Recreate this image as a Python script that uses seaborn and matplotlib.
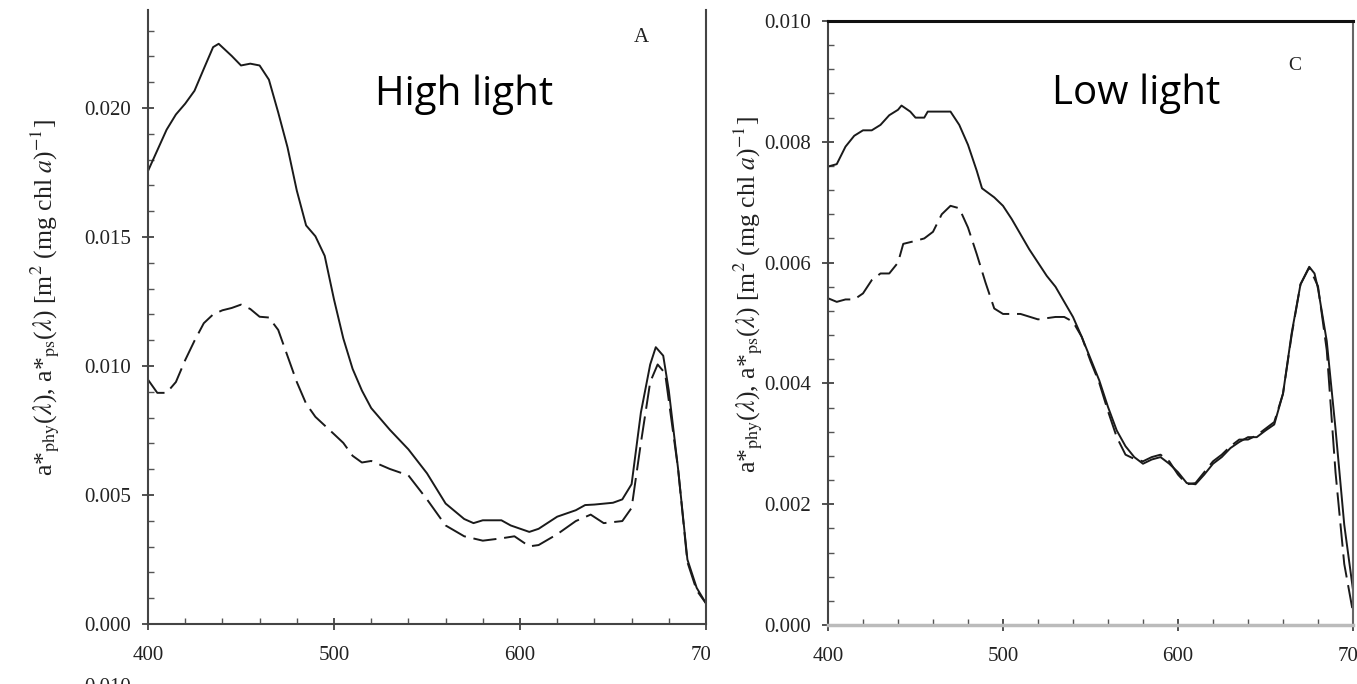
import numpy as np
import pandas as pd
import matplotlib
matplotlib.use("Agg")
import matplotlib.pyplot as plt
import seaborn as sns
from matplotlib.ticker import MultipleLocator, FormatStrFormatter
from matplotlib.transforms import Bbox

# ---------------- data ----------------
# Panel A (High light)
hl_phy_wl = [400, 410, 415, 420, 425, 430, 435, 438, 445, 450, 455, 460, 465, 470, 475,
             480, 485, 490, 495, 500, 505, 510, 515, 520, 530, 540, 550, 560, 570, 575,
             580, 590, 595, 605, 610, 620, 630, 635, 640, 650, 655, 660, 665, 670, 673,
             677, 680, 685, 690, 695, 700]
hl_phy = [0.01756, 0.01916, 0.01975, 0.02017, 0.02067, 0.02152, 0.02236, 0.02249, 0.02202,
          0.02165, 0.02172, 0.02165, 0.02110, 0.01983, 0.01848, 0.01680, 0.01545, 0.01503,
          0.01427, 0.01258, 0.01107, 0.00989, 0.00905, 0.00837, 0.00753, 0.00677, 0.00584,
          0.00467, 0.00407, 0.00391, 0.00402, 0.00402, 0.00382, 0.00357, 0.00369, 0.00416,
          0.00441, 0.00461, 0.00463, 0.00470, 0.00483, 0.00542, 0.00820, 0.01006, 0.01073,
          0.01040, 0.00905, 0.00601, 0.00250, 0.00140, 0.00080]

hl_ps_wl = [400, 405, 410, 415, 420, 425, 430, 435, 440, 445, 450, 455, 460, 465, 470, 475,
            480, 485, 490, 500, 505, 510, 515, 520, 530, 540, 550, 560, 570, 580, 590, 597,
            605, 610, 620, 630, 638, 645, 655, 660, 665, 670, 674, 678, 685, 690, 695, 700]
hl_ps = [0.00947, 0.00896, 0.00896, 0.00938, 0.01023, 0.01098, 0.01166, 0.01200, 0.01216,
         0.01225, 0.01238, 0.01221, 0.01191, 0.01188, 0.01140, 0.01039, 0.00938, 0.00854,
         0.00803, 0.00736, 0.00702, 0.00652, 0.00626, 0.00632, 0.00601, 0.00576, 0.00483,
         0.00382, 0.00340, 0.00323, 0.00332, 0.00340, 0.00301, 0.00306, 0.00348, 0.00399,
         0.00424, 0.00391, 0.00399, 0.00450, 0.00702, 0.00938, 0.01006, 0.00972, 0.00601,
         0.00240, 0.00130, 0.00080]

# Panel C (Low light)
ll_phy_wl = [400, 405, 410, 415, 420, 425, 430, 435, 440, 442, 447, 450, 455, 457, 465, 470,
             475, 480, 485, 488, 495, 500, 505, 510, 515, 520, 525, 530, 535, 540, 545, 550,
             555, 560, 565, 570, 575, 580, 585, 590, 595, 600, 605, 610, 615, 620, 625, 630,
             635, 640, 645, 650, 655, 660, 665, 670, 675, 678, 680, 685, 690, 695, 700]
ll_phy = [0.00759, 0.00763, 0.00792, 0.00810, 0.00819, 0.00819, 0.00828, 0.00844, 0.00853,
          0.00860, 0.00850, 0.00840, 0.00840, 0.00850, 0.00850, 0.00850, 0.00828, 0.00795,
          0.00752, 0.00723, 0.00708, 0.00694, 0.00672, 0.00647, 0.00622, 0.00600, 0.00578,
          0.00560, 0.00535, 0.00510, 0.00477, 0.00441, 0.00405, 0.00361, 0.00322, 0.00296,
          0.00278, 0.00267, 0.00274, 0.00278, 0.00267, 0.00253, 0.00235, 0.00233, 0.00249,
          0.00267, 0.00278, 0.00293, 0.00303, 0.00311, 0.00311, 0.00322, 0.00332, 0.00383,
          0.00484, 0.00564, 0.00593, 0.00582, 0.00557, 0.00470, 0.00325, 0.00166, 0.00058]

ll_ps_wl = [400, 405, 410, 415, 420, 425, 430, 435, 440, 443, 450, 455, 460, 465, 470, 475,
            480, 485, 490, 495, 500, 510, 520, 530, 535, 540, 545, 550, 555, 560, 565, 570,
            575, 580, 585, 590, 595, 600, 605, 610, 615, 620, 625, 630, 635, 640, 645, 650,
            655, 660, 665, 670, 675, 680, 685, 690, 695, 700]
ll_ps = [0.00541, 0.00535, 0.00539, 0.00539, 0.00549, 0.00571, 0.00582, 0.00582, 0.00600,
         0.00631, 0.00636, 0.00640, 0.00651, 0.00680, 0.00694, 0.00690, 0.00658, 0.00614,
         0.00567, 0.00524, 0.00515, 0.00515, 0.00506, 0.00510, 0.00510, 0.00502, 0.00477,
         0.00437, 0.00401, 0.00354, 0.00311, 0.00282, 0.00275, 0.00271, 0.00278, 0.00282,
         0.00271, 0.00249, 0.00233, 0.00235, 0.00253, 0.00271, 0.00282, 0.00296, 0.00307,
         0.00307, 0.00314, 0.00325, 0.00336, 0.00383, 0.00481, 0.00564, 0.00592, 0.00561,
         0.00455, 0.00253, 0.00101, 0.00021]

x_ticks = [400, 500, 600, 700]
hl_yticks = [0.000, 0.005, 0.010, 0.015, 0.020]
ll_yticks = [0.000, 0.002, 0.004, 0.006, 0.008, 0.010]

ylabel_hl = r"a*$_{\rm phy}$($\lambda$), a*$_{\rm ps}$($\lambda$) [m$^{2}$ (mg chl $a$)$^{-1}$]"
ylabel_ll = r"a*$_{\rm phy}$($\lambda$), a*$_{\rm ps}$($\lambda$) [m$^{2}$ (mg chl $a$)$^{-1}$]"

# ---------------- style ----------------
sns.set_theme(style="ticks")
plt.rcParams["font.family"] = ["Liberation Serif", "DejaVu Serif"]
plt.rcParams["mathtext.fontset"] = "stix"

W, H = 1357, 684
fig = plt.figure(figsize=(W / 100, H / 100), dpi=100)
fig.patch.set_facecolor("white")


def fx(px):
    return px / W


def fy(py):
    return 1 - py / H


ax1 = fig.add_axes([fx(148), fy(624), fx(558), 614 / H])
ax2 = fig.add_axes([fx(828), fy(625), fx(525), 604 / H])

line_col = "#1a1a1a"
dash = (0, (12, 4))

sns.lineplot(x=hl_phy_wl, y=hl_phy, ax=ax1, color=line_col, lw=1.4)
sns.lineplot(x=hl_ps_wl, y=hl_ps, ax=ax1, color=line_col, lw=1.4, linestyle=dash)
sns.lineplot(x=ll_phy_wl, y=ll_phy, ax=ax2, color=line_col, lw=1.4)
sns.lineplot(x=ll_ps_wl, y=ll_ps, ax=ax2, color=line_col, lw=1.4, linestyle=dash)

for ax, yt, ymax, yminor in [(ax1, hl_yticks, 0.0238, 0.001), (ax2, ll_yticks, 0.010, 0.0004)]:
    ax.set_xlim(400, 700)
    ax.set_ylim(0, ymax)
    ax.set_xticks(x_ticks)
    ax.set_yticks(yt)
    ax.xaxis.set_minor_locator(MultipleLocator(20))
    ax.yaxis.set_minor_locator(MultipleLocator(yminor))
    ax.yaxis.set_major_formatter(FormatStrFormatter("%.3f"))
    ax.tick_params(axis="both", which="major", direction="inout", length=9, width=1.2,
                   color="#333333", labelsize=15, labelcolor="#222222")
    ax.tick_params(axis="y", which="major", pad=8)
    ax.tick_params(axis="x", which="major", pad=11)
    ax.tick_params(axis="both", which="minor", direction="in", length=4, width=1.0,
                   color="#555555")
    ax.set_xlabel("")
    ax.set_ylabel("")
    ax.patch.set_alpha(0)

# spines
ax1.spines["top"].set_visible(False)
for s in ["left", "bottom", "right"]:
    ax1.spines[s].set_color("#444444")
    ax1.spines[s].set_linewidth(1.5)
ax2.spines["top"].set_color("#111111")
ax2.spines["top"].set_linewidth(2.2)
ax2.spines["left"].set_color("#444444")
ax2.spines["left"].set_linewidth(1.5)
ax2.spines["bottom"].set_color("#bbbbbb")
ax2.spines["bottom"].set_linewidth(2.5)
ax2.spines["right"].set_color("#666666")
ax2.spines["right"].set_linewidth(1.5)

# y labels
fig.text(fx(45), fy(298), ylabel_hl, rotation=90, ha="center", va="center",
         fontsize=18.5, color="#222222")
fig.text(fx(748), fy(295), ylabel_ll, rotation=90, ha="center", va="center",
         fontsize=18.5, color="#222222")

# panel letters
fig.text(fx(641), fy(38), "A", ha="center", va="center", fontsize=15, color="#222222")
fig.text(fx(1295), fy(65), "C", ha="center", va="center", fontsize=14, color="#222222")

# annotations
fig.text(fx(464), fy(105), "High light", ha="center", va="baseline",
         fontsize=29, family=["Open Sans", "DejaVu Sans"], color="black")
fig.text(fx(1136), fy(104), "Low light", ha="center", va="baseline",
         fontsize=29, family=["Open Sans", "DejaVu Sans"], color="black")

# partially visible label from the panel below
fig.text(fx(108), fy(678), "0.010", ha="center", va="top", fontsize=15, color="#222222")

# the left panel's last x label is cut by the right panel in the reference
fig.canvas.draw()
clip = Bbox.from_extents(0, 0, 710, H)
for t in ax1.xaxis.get_major_ticks():
    t.label1.set_clip_on(True)
    t.label1.set_clip_box(clip)

fig.savefig("out.png", dpi=100)
